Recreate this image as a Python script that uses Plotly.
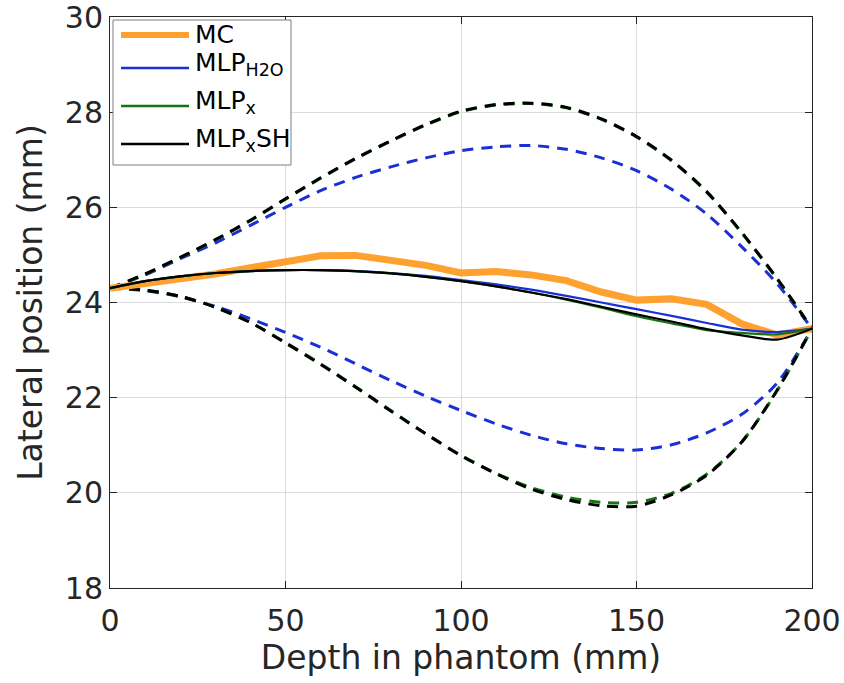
import plotly.graph_objects as go

# Depth samples (mm)
depth = [0, 10, 20, 30, 40, 50, 60, 70, 80, 90, 100,
         110, 120, 130, 140, 150, 160, 170, 180, 190, 200]

# Monte Carlo mean lateral position (mm)
mc = [24.30, 24.40, 24.47, 24.60, 24.73, 24.86, 24.98, 24.99, 24.90, 24.78, 24.62,
      24.65, 24.58, 24.46, 24.22, 24.05, 24.08, 23.96, 23.55, 23.32, 23.45]

# Most likely paths (mm)
mlp_h2o = [24.30, 24.45, 24.55, 24.62, 24.66, 24.68, 24.68, 24.66, 24.62, 24.56, 24.47,
           24.38, 24.27, 24.14, 24.00, 23.86, 23.72, 23.57, 23.43, 23.38, 23.45]
mlp_x = [24.30, 24.45, 24.55, 24.62, 24.66, 24.68, 24.68, 24.66, 24.61, 24.54, 24.45,
         24.34, 24.21, 24.06, 23.89, 23.71, 23.56, 23.42, 23.36, 23.33, 23.45]
mlp_xsh = [24.30, 24.45, 24.55, 24.62, 24.66, 24.68, 24.68, 24.66, 24.61, 24.54, 24.45,
           24.34, 24.21, 24.07, 23.91, 23.75, 23.60, 23.44, 23.31, 23.22, 23.45]

# Uncertainty envelopes (mm)
h2o_upper = [24.30, 24.58, 24.92, 25.25, 25.62, 26.00, 26.35, 26.63, 26.85, 27.04, 27.19,
             27.27, 27.30, 27.22, 27.04, 26.77, 26.38, 25.86, 25.17, 24.40, 23.45]
h2o_lower = [24.30, 24.25, 24.12, 23.92, 23.66, 23.37, 23.06, 22.71, 22.36, 22.03, 21.73,
             21.45, 21.21, 21.03, 20.93, 20.90, 21.01, 21.26, 21.65, 22.30, 23.45]
x_upper = [24.30, 24.59, 24.94, 25.31, 25.72, 26.17, 26.61, 27.02, 27.39, 27.73, 28.01,
           28.15, 28.18, 28.09, 27.85, 27.48, 26.98, 26.32, 25.46, 24.50, 23.45]
x_lower = [24.30, 24.26, 24.13, 23.90, 23.58, 23.16, 22.71, 22.23, 21.73, 21.24, 20.79,
           20.41, 20.11, 19.91, 19.80, 19.80, 19.99, 20.39, 21.07, 22.14, 23.45]
xsh_upper = [24.30, 24.60, 24.95, 25.32, 25.73, 26.18, 26.62, 27.03, 27.40, 27.74, 28.02,
             28.16, 28.19, 28.10, 27.86, 27.49, 26.99, 26.33, 25.47, 24.51, 23.45]
xsh_lower = [24.30, 24.26, 24.13, 23.90, 23.58, 23.15, 22.70, 22.22, 21.72, 21.24, 20.78,
             20.40, 20.08, 19.86, 19.73, 19.72, 19.96, 20.37, 21.07, 22.15, 23.45]

legend_labels = ["MC", "MLP<sub>H2O</sub>", "MLP<sub>x</sub>", "MLP<sub>x</sub>SH"]

ORANGE = "#ffa12e"
BLUE = "#1b2fd6"
GREEN = "#157315"
BLACK = "#000000"
DASH = "11px,8px"

W, H = 844, 683
ML, MR, MT, MB = 110, 32, 17, 95
PW, PH = W - ML - MR, H - MT - MB


def px(x):
    return (x - ML) / PW


def py(y):
    return (H - MB - y) / PH


fig = go.Figure()

# Envelopes (dashed)
for ys, col in [(h2o_upper, BLUE), (h2o_lower, BLUE),
                (x_upper, GREEN), (x_lower, GREEN),
                (xsh_upper, BLACK), (xsh_lower, BLACK)]:
    fig.add_trace(go.Scatter(x=depth, y=ys, mode="lines", showlegend=False,
                             line=dict(color=col, width=3, dash=DASH, shape="spline",
                                       smoothing=0.8),
                             hoverinfo="skip"))

# Mean paths
styles = [(mc, ORANGE, 7, "linear"), (mlp_h2o, BLUE, 2.2, "spline"),
          (mlp_x, GREEN, 2.2, "spline"), (mlp_xsh, BLACK, 2.2, "spline")]
for (ys, col, lw, shp), name in zip(styles, legend_labels):
    fig.add_trace(go.Scatter(x=depth, y=ys, mode="lines", name=name, showlegend=False,
                             line=dict(color=col, width=lw, shape=shp, smoothing=0.8)))

FONT = "DejaVu Sans"
TXT = "#262626"
axis_common = dict(
    showline=True, linecolor=TXT, linewidth=1, mirror="ticks",
    ticks="inside", ticklen=7, tickcolor=TXT, tickwidth=1,
    showgrid=True, gridcolor="#dcdcdc", gridwidth=1, zeroline=False,
    automargin=False, ticklabeloverflow="allow",
    tickfont=dict(family=FONT, size=30, color=TXT),
)

# Legend box, line samples and labels
shapes = [dict(type="rect", xref="paper", yref="paper",
               x0=px(113), x1=px(291), y0=py(165), y1=py(20),
               line=dict(color="#7f7f7f", width=1), fillcolor="white", layer="above")]
annotations = []
row_y = [35, 68, 106, 144]
for (ys, col, lw, shp), name, ry in zip(styles, legend_labels, row_y):
    shapes.append(dict(type="line", xref="paper", yref="paper",
                       x0=px(121), x1=px(189), y0=py(ry), y1=py(ry),
                       line=dict(color=col, width=min(lw + 0.4, 6)), layer="above"))
    ty = ry - 4 if "<sub>" in name else ry
    annotations.append(dict(text=name, xref="paper", yref="paper",
                            x=px(193), y=py(ty), xanchor="left", yanchor="middle",
                            showarrow=False,
                            font=dict(family=FONT, size=25, color=BLACK)))

fig.update_layout(
    width=W, height=H,
    margin=dict(l=ML, r=MR, t=MT, b=MB),
    paper_bgcolor="white", plot_bgcolor="white",
    xaxis=dict(range=[0, 200], tickvals=[0, 50, 100, 150, 200],
               ticklabelstandoff=6,
               title=dict(text="Depth in phantom (mm)", standoff=6,
                          font=dict(family=FONT, size=33, color=TXT)),
               **axis_common),
    yaxis=dict(range=[18, 30], tickvals=[18, 20, 22, 24, 26, 28, 30],
               title=dict(text="Lateral position (mm)", standoff=12,
                          font=dict(family=FONT, size=33, color=TXT)),
               **axis_common),
    shapes=shapes,
    annotations=annotations,
    showlegend=False,
)

fig.write_html("out.html")
